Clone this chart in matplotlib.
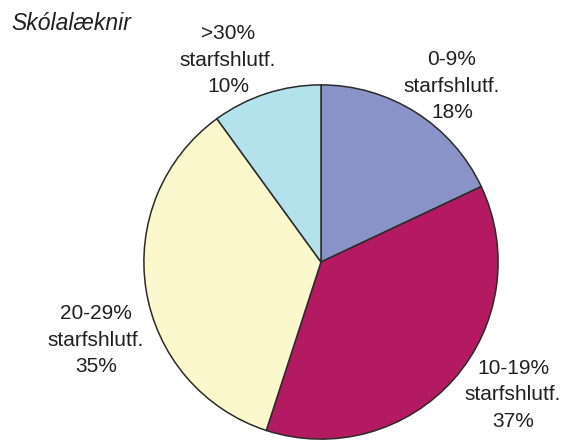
import matplotlib
matplotlib.use("Agg")
import matplotlib.pyplot as plt

title = "Skólalæknir"
categories = ["0-9%", "10-19%", "20-29%", ">30%"]
shares = [18, 37, 35, 10]
colors = ["#8A93C8", "#B41A62", "#FCF8CE", "#B3E1EC"]
# label anchor (centre x, last-line baseline y) in figure pixels from top-left
label_px = [(452, 118), (513, 427), (96, 372), (228, 92)]

W, H = 571, 441
fig = plt.figure(figsize=(W / 100, H / 100), dpi=100)
fig.patch.set_facecolor("white")

cx, cy, r = 321, 262, 178
ax = fig.add_axes([(cx - r) / W, (H - cy - r) / H, 2 * r / W, 2 * r / H])
ax.pie(shares, colors=colors, startangle=90, counterclock=False,
       wedgeprops=dict(edgecolor="#2b2b2b", linewidth=1.1),
       radius=1.0)
ax.set_xlim(-1.005, 1.005)
ax.set_ylim(-1.005, 1.005)
ax.set_aspect("equal")
ax.axis("off")

font = ["Liberation Sans", "DejaVu Sans"]
for cat, val, (px, py) in zip(categories, shares, label_px):
    fig.text(px / W, 1 - py / H, f"{cat}\nstarfshlutf.\n{val}%",
             ha="center", va="baseline", fontsize=15, color="#231f20",
             family=font, linespacing=1.5, multialignment="center")

fig.text(11 / W, 1 - 30 / H, title, ha="left", va="baseline", fontsize=16.5,
         style="italic", color="#231f20", family=font)

fig.savefig("out.png", dpi=100)
